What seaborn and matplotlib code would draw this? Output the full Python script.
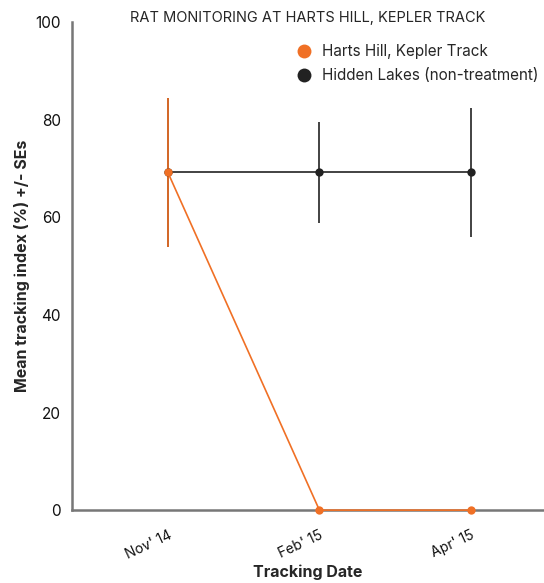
import matplotlib
matplotlib.use('Agg')
from matplotlib import pyplot as plt
from matplotlib.lines import Line2D
import pandas as pd
import seaborn as sns

# data
dates = ["Nov' 14", "Feb' 15", "Apr' 15"]
sites = ['Harts Hill, Kepler Track', 'Hidden Lakes (non-treatment)']
harts_mean = [69.2, 0.0, 0.0]
harts_se = [15.3, 0.0, 0.0]
hidden_mean = [69.2, 69.2, 69.2]
hidden_se = [15.3, 10.4, 13.3]

colors = {sites[0]: '#F07025', sites[1]: '#222222'}

df = pd.DataFrame({
    'pos': list(range(len(dates))) * 2,
    'date': dates * 2,
    'site': [sites[0]] * 3 + [sites[1]] * 3,
    'mean': harts_mean + hidden_mean,
    'se': harts_se + hidden_se,
})

sns.set_style('white')
plt.rcParams['font.family'] = ['Inter', 'DejaVu Sans']

fig = plt.figure(figsize=(5.44, 5.83), dpi=100)
ax = fig.add_axes([0.132, 0.125, 0.866, 0.837])

# draw hidden lakes first so harts hill sits on top
for site in [sites[1], sites[0]]:
    sub = df[df['site'] == site]
    ax.errorbar(sub['pos'], sub['mean'], yerr=sub['se'], fmt='none',
                ecolor=colors[site], elinewidth=1.2, capsize=0, zorder=2, clip_on=False)
    sns.lineplot(data=sub, x='pos', y='mean', color=colors[site], marker='o',
                 markersize=6, markeredgewidth=0, linewidth=1.2, ax=ax,
                 legend=False, zorder=3, clip_on=False)

ax.set_xlim(-0.634, 2.475)
ax.set_ylim(0, 100)
ax.set_yticks([0, 20, 40, 60, 80, 100])
ax.set_xticks(range(len(dates)))
ax.set_xticklabels(dates, rotation=25, ha='right', rotation_mode='anchor')
ax.tick_params(axis='x', length=0, pad=13, labelsize=10, colors='#111111')
ax.tick_params(axis='y', length=0, pad=8, labelsize=11, colors='#111111')

for side in ['top', 'right']:
    ax.spines[side].set_visible(False)
for side in ['left', 'bottom']:
    ax.spines[side].set_color('#777777')
    ax.spines[side].set_linewidth(1.8)

ax.set_xlabel('Tracking Date', fontsize=11.5, fontweight='bold')
ax.set_ylabel('Mean tracking index (%) +/- SEs', fontsize=11.5, fontweight='bold')
ax.xaxis.set_label_coords(0.5, -0.112)
ax.yaxis.set_label_coords(-0.089, 0.5)
ax.set_title('RAT MONITORING AT HARTS HILL, KEPLER TRACK', fontsize=10.5, pad=0)

handles = [Line2D([], [], linestyle='none', marker='o', markersize=10,
                  markerfacecolor=colors[s], markeredgewidth=0) for s in sites]
ax.legend(handles, sites, loc='upper right', bbox_to_anchor=(1.02, 0.983), frameon=False,
          fontsize=11, handletextpad=0.6, labelspacing=0.6, handlelength=1.2)

plt.savefig('out.png', dpi=100)
